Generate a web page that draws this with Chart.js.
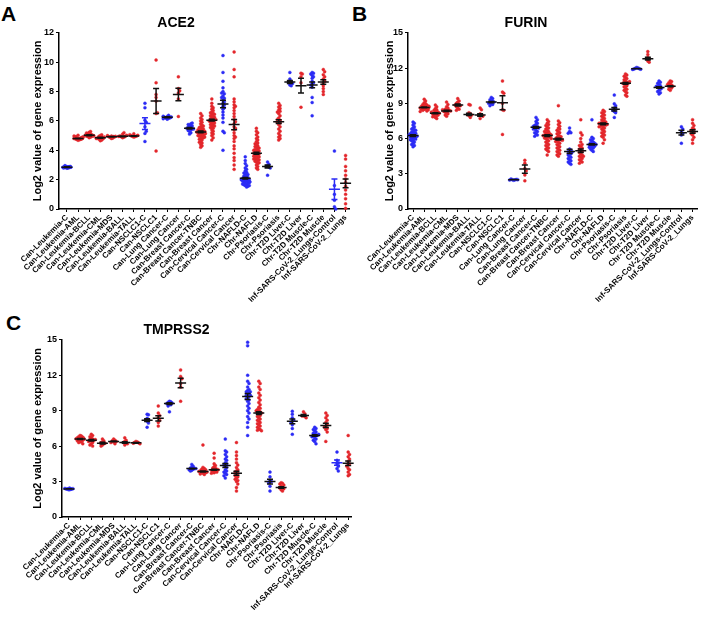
<!DOCTYPE html>
<html>
<head>
<meta charset="utf-8">
<script src="https://cdn.jsdelivr.net/npm/chart.js@4.4.1/dist/chart.umd.min.js"></script>
<style>
  body { margin: 0; background: #fff; width: 703px; height: 618px; position: relative; overflow: hidden; font-family: "Liberation Sans", Arial, sans-serif; }
  canvas { position: absolute; }
  .letter { position: absolute; font-weight: bold; font-size: 21px; color: #000; line-height: 1; }
</style>
</head>
<body>
<div class="letter" style="left:1px;top:3px">A</div>
<div class="letter" style="left:352px;top:3px">B</div>
<div class="letter" style="left:6px;top:312px">C</div>
<canvas id="chartA" width="354" height="310" style="left:0;top:0"></canvas>
<canvas id="chartB" width="350" height="310" style="left:352px;top:0"></canvas>
<canvas id="chartC" width="356" height="311" style="left:0;top:307px"></canvas>
<script>
const categories = [
  "Can-Leukemia-C", "Can-Leukemia-AML", "Can-Leukemia-BCLL", "Can-Leukemia-CML", "Can-Leukemia-MDS",
  "Can-Leukemia-BALL", "Can-Leukemia-TALL", "Can-NSCLC1-C", "Can-NSCLC1", "Can-Lung Cancer-C",
  "Can-Lung Cancer", "Can-Breast Cancer-C", "Can-Breast Cancer-TNBC", "Can-Breast Cancer", "Can-Cervical Cancer-C",
  "Can-Cervical Cancer", "Chr-NAFLD-C", "Chr-NAFLD", "Chr-Psoriasis-C", "Chr-Psoriasis",
  "Chr-T2D Liver-C", "Chr-T2D Liver", "Chr-T2D Muscle-C", "Chr-T2D Muscle", "Inf-SARS-CoV-2_Lungs-Control",
  "Inf-SARS-CoV-2_Lungs"
];

// ACE2 samples per group
const ace2Points = [
  [2.78,2.8,2.82,2.83,2.84,2.85,2.85,2.86,2.87,2.88,2.9,2.92,2.95,2.8,2.83,2.87,2.9,2.86],
  [4.68,4.72,4.74,4.76,4.78,4.79,4.8,4.8,4.81,4.82,4.83,4.85,4.86,4.88,4.9,4.93,4.97,5.02,4.75,4.78,4.84],
  [4.86,4.9,4.93,4.95,4.97,5.0,5.0,5.02,5.04,5.06,5.08,5.12,5.18,5.22,5.28,4.98,5.05],
  [4.65,4.7,4.75,4.78,4.82,4.85,4.88,4.9,4.95,5.0,5.05,4.8,4.86],
  [4.8,4.84,4.87,4.9,4.92,4.95,4.97,5.0,4.93],
  [4.86,4.9,4.92,4.95,4.98,5.02,5.1,5.2,4.94],
  [4.9,4.93,4.95,4.97,4.99,5.02,5.06,5.12],
  [7.2,6.9,6.05,5.9,5.6,5.15,5.3,4.6],
  [10.15,8.6,7.6,7.35,6.5,6.55,3.95,7.8],
  [6.12,6.18,6.2,6.22,6.25,6.27,6.3,6.32,6.38,6.15,6.24],
  [9.0,8.2,8.05,7.9,7.5,6.3],
  [5.1,5.2,5.3,5.35,5.4,5.45,5.5,5.5,5.55,5.6,5.65,5.7,5.75,5.8,5.85,5.45],
  [4.2,4.3,4.4,4.5,4.55,4.6,4.7,4.75,4.8,4.85,4.9,4.95,5.0,5.0,5.05,5.1,5.1,5.15,5.2,5.2,5.25,5.3,5.3,5.35,5.4,5.45,5.5,5.55,5.6,5.65,5.7,5.8,5.9,6.0,6.1,6.2,6.35,6.5,5.25,5.15,4.9,5.4],
  [4.7,4.85,5.0,5.1,5.2,5.3,5.4,5.5,5.55,5.6,5.7,5.75,5.8,5.85,5.9,5.95,6.0,6.0,6.05,6.1,6.1,6.15,6.2,6.25,6.3,6.35,6.4,6.5,6.55,6.6,6.7,6.8,6.9,7.0,7.2,7.5,5.65,6.45],
  [10.45,9.3,8.7,8.25,8.0,7.85,7.7,7.55,7.4,7.3,7.2,7.1,7.0,6.9,6.8,6.6,6.4,6.2,5.9,5.3,5.2,4.0,7.6,7.9],
  [10.7,9.5,9.0,7.5,7.3,7.1,7.0,6.9,6.7,6.5,6.3,6.1,5.95,5.8,5.6,5.4,5.2,5.0,4.9,4.8,4.6,4.3,4.1,3.8,3.5,3.3,3.0,2.7,5.5],
  [3.55,3.3,3.1,2.95,2.8,2.7,2.6,2.5,2.45,2.4,2.35,2.3,2.25,2.2,2.15,2.1,2.1,2.05,2.0,2.0,1.95,1.9,1.9,1.85,1.8,1.8,1.75,1.7,1.7,1.65,1.6,1.6,1.55,1.5,2.0,1.85],
  [5.5,5.3,5.2,5.05,4.9,4.8,4.7,4.6,4.5,4.45,4.4,4.3,4.25,4.2,4.1,4.05,4.0,3.95,3.9,3.85,3.8,3.75,3.7,3.65,3.6,3.55,3.5,3.45,3.4,3.35,3.3,3.25,3.2,3.15,3.1,3.0,2.9,2.8,2.7,3.8,3.6,3.4,4.0,4.15],
  [3.2,3.05,2.95,2.9,2.85,2.8,2.3],
  [7.2,7.05,6.95,6.85,6.75,6.65,6.5,6.35,6.2,6.05,5.95,5.85,5.75,5.6,5.45,5.3,5.15,5.0,4.9,4.8,4.7,6.1,5.9,6.6],
  [9.3,8.85,8.7,8.65,8.6,8.55,8.45,8.4],
  [9.25,9.2,9.0,8.6,6.93],
  [9.3,9.25,9.2,9.1,9.0,8.9,8.7,8.6,8.5,8.45,8.3,7.6,7.25,6.35],
  [9.5,9.35,9.15,9.0,8.85,8.7,8.6,8.4,8.2,8.0,7.8],
  [3.95,1.6,1.0,0.6,0.15,0.0],
  [3.65,3.4,2.9,2.6,2.3,2.05,1.8,1.55,1.3,1.0,0.7,0.35,0.05]
];
const ace2Means = [2.85,4.8,5.02,4.85,4.92,4.95,4.97,5.82,7.35,6.25,7.8,5.5,5.25,6.05,7.15,5.75,2.1,3.8,2.9,5.95,8.65,8.4,8.45,8.65,1.35,1.75];
const ace2Sems  = [0.02,0.02,0.03,0.04,0.02,0.03,0.02,0.4,0.85,0.03,0.42,0.05,0.06,0.06,0.25,0.35,0.05,0.07,0.1,0.13,0.1,0.5,0.2,0.15,0.7,0.3];

// FURIN samples per group
const furinPoints = [
  [7.4,7.3,7.15,7.0,6.9,6.8,6.75,6.7,6.6,6.55,6.5,6.45,6.4,6.35,6.3,6.25,6.2,6.2,6.15,6.1,6.05,6.0,5.95,5.9,5.85,5.8,5.7,5.6,5.5,5.4,5.3,6.3,6.1,6.4],
  [9.35,9.2,9.05,8.95,8.9,8.85,8.8,8.75,8.7,8.7,8.65,8.6,8.6,8.55,8.5,8.5,8.45,8.4,8.35,8.3,8.65,8.75,8.55],
  [8.85,8.7,8.55,8.45,8.4,8.3,8.25,8.2,8.15,8.1,8.05,8.0,7.95,7.9,7.85,7.8,7.7,8.15,8.25,8.05],
  [9.1,8.9,8.7,8.6,8.5,8.45,8.4,8.35,8.3,8.25,8.2,8.1,8.0,7.9,8.35,8.45],
  [9.4,9.2,9.1,9.0,8.9,8.85,8.8,8.7,8.6,8.5,8.4,8.85],
  [8.9,8.85,8.2,8.1,8.05,8.0,7.95,7.8],
  [8.6,8.45,8.1,8.0,7.95,7.9,7.7],
  [9.5,9.4,9.3,9.2,9.15,9.1,9.05,9.0,8.95,8.9,8.8],
  [10.9,9.95,9.85,9.0,8.45,8.4,6.35],
  [2.45,2.48,2.5,2.52,2.55,2.5,2.47],
  [4.15,3.9,3.45,3.25,2.9,2.4],
  [7.8,7.6,7.45,7.3,7.2,7.1,7.0,6.95,6.9,6.85,6.8,6.7,6.6,6.5,6.4,6.3,6.2,7.05],
  [7.6,7.45,7.3,7.2,7.1,7.0,6.9,6.8,6.7,6.6,6.5,6.45,6.4,6.35,6.3,6.25,6.2,6.15,6.1,6.05,6.0,5.9,5.8,5.7,5.6,5.5,5.4,5.3,5.2,5.1,5.0,4.9,4.6,6.3,6.25,6.2,6.6,6.0],
  [8.8,7.5,7.35,7.2,7.05,6.9,6.8,6.7,6.6,6.5,6.4,6.3,6.2,6.1,6.0,5.95,5.9,5.8,5.7,5.6,5.5,5.4,5.3,5.2,5.1,5.0,4.9,4.8,4.7,4.6,4.5,6.0,5.85,6.15,5.75],
  [6.9,6.6,6.5,6.45,5.1,5.0,4.9,4.8,4.7,4.6,4.5,4.4,4.3,4.2,4.1,4.0,3.9,3.8,4.85],
  [7.6,6.5,6.3,6.0,5.7,5.5,5.3,5.2,5.1,5.0,4.9,4.8,4.7,4.6,4.5,4.4,4.3,4.2,4.1,4.0,3.9,5.4,4.5],
  [7.6,6.1,6.0,5.9,5.8,5.7,5.65,5.6,5.55,5.5,5.45,5.4,5.35,5.3,5.25,5.2,5.1,5.0,4.9,5.5],
  [8.4,8.3,8.2,8.1,8.0,7.9,7.8,7.7,7.6,7.5,7.45,7.4,7.35,7.3,7.25,7.2,7.15,7.1,7.05,7.0,6.9,6.8,6.7,6.6,6.5,6.4,6.3,6.2,6.1,5.9,5.6,7.2,7.3,7.0],
  [9.7,8.95,8.8,8.6,8.5,8.4,8.3,8.2,7.8],
  [11.5,11.4,11.3,11.2,11.1,11.0,10.9,10.8,10.75,10.7,10.6,10.5,10.4,10.3,10.2,10.1,10.0,9.9,9.7,9.6,10.7,10.85],
  [12.05,12.0,11.98,11.95,11.92,11.9,11.88],
  [13.4,13.15,12.9,12.8,12.6,12.5],
  [10.9,10.8,10.7,10.6,10.5,10.4,10.35,10.3,10.2,10.1,10.0,9.9,9.8,10.45],
  [10.9,10.85,10.75,10.65,10.55,10.5,10.45,10.4,10.3,10.2,10.1,10.6],
  [7.0,6.8,6.55,6.45,6.3,5.6],
  [7.6,7.3,7.1,6.9,6.8,6.7,6.6,6.5,6.4,6.3,6.1,5.9,5.6]
];
const furinMeans = [6.25,8.65,8.15,8.35,8.85,8.05,8.0,9.1,9.05,2.5,3.4,6.95,6.25,5.95,4.9,4.95,5.5,7.25,8.5,10.7,11.95,12.8,10.35,10.45,6.5,6.6];
const furinSems  = [0.07,0.04,0.05,0.06,0.08,0.1,0.1,0.06,0.6,0.02,0.35,0.08,0.07,0.07,0.18,0.15,0.06,0.07,0.15,0.07,0.02,0.12,0.06,0.04,0.2,0.15];

// TMPRSS2 samples per group
const tmprss2Points = [
  [2.3,2.33,2.35,2.37,2.38,2.4,2.42,2.45,2.36,2.39],
  [6.9,6.85,6.8,6.75,6.7,6.65,6.6,6.6,6.55,6.5,6.45,6.4,6.35,6.3,6.2,6.62,6.68],
  [7.0,6.9,6.8,6.7,6.6,6.55,6.5,6.45,6.4,6.3,6.2,6.1,6.0,6.55],
  [6.6,6.45,6.35,6.3,6.25,6.2,6.1,6.0],
  [6.6,6.5,6.45,6.4,6.35,6.3,6.2],
  [6.7,6.5,6.4,6.3,6.25,6.2,6.1],
  [6.4,6.35,6.3,6.28,6.25,6.2],
  [8.7,8.65,8.35,8.25,8.2,8.1,7.95,7.6],
  [9.4,8.8,8.6,8.4,8.2,8.0,7.7],
  [9.8,9.75,9.7,9.65,9.6,9.55,9.5,9.4,8.9],
  [12.45,11.9,11.7,11.3,11.0,9.8],
  [4.45,4.3,4.2,4.15,4.1,4.05,4.0,3.95,3.9,4.1],
  [6.1,4.2,4.1,4.05,4.0,3.95,3.9,3.85,3.8,3.8,3.75,3.7,3.65,3.6,3.85,3.9],
  [5.4,5.0,4.5,4.35,4.25,4.15,4.1,4.05,4.0,3.95,3.9,3.85,3.8,3.75,3.7,4.0],
  [6.6,5.6,5.5,5.3,5.1,4.9,4.8,4.6,4.5,4.4,4.3,4.2,4.0,3.9,3.8,3.7,3.6,3.5,3.3],
  [6.3,5.5,5.2,4.9,4.6,4.4,4.2,4.0,3.9,3.8,3.7,3.6,3.5,3.4,3.3,3.2,3.1,3.0,2.8,2.5,2.2],
  [14.8,14.5,12.0,11.5,11.3,11.0,10.8,10.7,10.6,10.5,10.4,10.3,10.2,10.1,10.0,9.9,9.8,9.6,9.4,9.2,9.0,8.8,8.5,8.3,8.0,7.6,6.9,10.3,10.6],
  [11.5,11.3,11.0,10.8,10.5,10.3,10.1,9.9,9.7,9.5,9.3,9.2,9.1,9.0,8.9,8.8,8.7,8.6,8.5,8.4,8.3,8.2,8.1,8.0,7.9,7.8,7.7,7.6,7.5,7.4,7.35,7.3,8.8,9.0],
  [3.8,3.4,3.1,3.0,2.9,2.6,2.2],
  [2.9,2.85,2.8,2.7,2.6,2.5,2.45,2.4,2.3,2.2],
  [8.95,8.7,8.4,8.2,8.1,8.0,7.8,7.5,7.0],
  [8.9,8.75,8.6,8.55,8.5,8.4],
  [7.6,7.5,7.4,7.3,7.2,7.1,7.0,6.95,6.9,6.85,6.8,6.7,6.6,6.5,6.4,6.2,7.0],
  [8.8,8.6,8.4,8.2,8.0,7.8,7.7,7.6,7.5,7.4,7.2,6.4],
  [5.5,4.8,4.6,4.5,4.3,4.1,3.9],
  [6.9,5.5,5.3,5.1,4.9,4.7,4.5,4.4,4.3,4.1,4.0,3.8,3.6,3.5]
];
const tmprss2Means = [2.38,6.6,6.5,6.25,6.4,6.3,6.28,8.2,8.35,9.6,11.35,4.1,3.85,4.0,4.35,3.7,10.2,8.8,3.0,2.5,8.1,8.6,6.9,7.75,4.6,4.55];
const tmprss2Sems  = [0.01,0.04,0.07,0.07,0.04,0.06,0.03,0.12,0.22,0.08,0.4,0.03,0.05,0.05,0.17,0.17,0.25,0.12,0.2,0.06,0.2,0.07,0.06,0.18,0.22,0.2];

const BLUE = "#2b2bf5";
const RED = "#e3262b";
Chart.defaults.font.family = '"Liberation Sans", Arial, sans-serif';

const isControl = name => name.endsWith("-C") || name.endsWith("Control");

// spread points sideways so they do not overlap (simple beeswarm, width capped)
function swarm(vals, i, dy) {
  const dx = 0.12, slots = [0, 1, -1, 2, -2, 3, -3];
  const placed = [];
  return vals.map(v => {
    const near = placed.filter(p => Math.abs(p.v - v) < dy);
    let off = slots.map(s => s * dx).find(o => !near.some(p => Math.abs(p.o - o) < dx * 0.9));
    if (off === undefined) off = slots[near.length % slots.length] * dx + dx / 2;
    placed.push({ v, o: off });
    return { x: i + off, y: v };
  });
}

function errorBars(means, sems, blueBars) {
  return {
    id: "errorBars",
    afterDatasetsDraw(chart) {
      const { ctx, scales: { x, y } } = chart;
      ctx.save();
      ctx.lineWidth = 1.5;
      means.forEach((m, i) => {
        const cx = x.getPixelForValue(i);
        const ym = y.getPixelForValue(m);
        const yt = y.getPixelForValue(m + sems[i]);
        const yb = y.getPixelForValue(Math.max(0, m - sems[i]));
        ctx.strokeStyle = blueBars.includes(i) ? BLUE : "#111";
        ctx.beginPath();
        ctx.moveTo(cx - 5.5, ym); ctx.lineTo(cx + 5.5, ym);
        ctx.moveTo(cx, yt); ctx.lineTo(cx, yb);
        ctx.moveTo(cx - 3, yt); ctx.lineTo(cx + 3, yt);
        ctx.moveTo(cx - 3, yb); ctx.lineTo(cx + 3, yb);
        ctx.stroke();
      });
      ctx.restore();
    }
  };
}

function makeChart(id, title, points, means, sems, o) {
  const dy = o.yMax * 2.4 / 176;
  const ctrl = [], dis = [];
  points.forEach((vals, i) => {
    (isControl(categories[i]) ? ctrl : dis).push(...swarm(vals, i, dy));
  });
  const pointStyle = c => ({ backgroundColor: c, borderColor: c, pointRadius: 1.5, pointBorderWidth: 0.4, clip: false });
  return new Chart(document.getElementById(id), {
    type: "scatter",
    data: {
      datasets: [
        { data: ctrl, ...pointStyle(BLUE) },
        { data: dis, ...pointStyle(RED) }
      ]
    },
    options: {
      responsive: false,
      animation: false,
      layout: { padding: { left: 0, right: o.padRight, top: 0, bottom: 0 } },
      plugins: {
        legend: { display: false },
        tooltip: { enabled: false },
        title: {
          display: true, text: title, color: "#000",
          font: { size: 14, weight: "bold" },
          padding: { top: o.titleTop, bottom: 1 }
        }
      },
      scales: {
        x: {
          type: "linear", min: o.xMin, max: o.xMax,
          afterBuildTicks: s => { s.ticks = categories.map((c, i) => ({ value: i })); },
          afterFit: s => { s.height = 101; },
          ticks: {
            autoSkip: false, minRotation: 45, maxRotation: 45, padding: 1, color: "#000",
            font: { size: 8, weight: "bold" },
            callback: v => categories[v]
          },
          grid: { drawOnChartArea: false, drawTicks: true, tickLength: 3, color: "#000" },
          border: { color: "#000", width: 1.5 }
        },
        y: {
          min: 0, max: o.yMax,
          afterFit: s => { s.width = o.yWidth; },
          ticks: { stepSize: o.yStep, padding: 2, color: "#000", font: { size: 9, weight: "bold" } },
          title: {
            display: true, text: "Log2 value of gene expression", color: "#000",
            font: { size: 11, weight: "bold" }, padding: { top: 31, bottom: 0 }
          },
          grid: { drawOnChartArea: false, drawTicks: true, tickLength: 3, color: "#000" },
          border: { color: "#000", width: 1.5 }
        }
      }
    },
    plugins: [errorBars(means, sems, o.blueBars)]
  });
}

makeChart("chartA", "ACE2", ace2Points, ace2Means, ace2Sems,
  { yMax: 12, yStep: 2, xMin: -0.71, xMax: 25.36, yWidth: 59, padRight: 2, titleTop: 15, blueBars: [7, 24] });
makeChart("chartB", "FURIN", furinPoints, furinMeans, furinSems,
  { yMax: 15, yStep: 3, xMin: -0.45, xMax: 25.45, yWidth: 56, padRight: 2, titleTop: 15, blueBars: [] });
makeChart("chartC", "TMPRSS2", tmprss2Points, tmprss2Means, tmprss2Sems,
  { yMax: 15, yStep: 3, xMin: -0.62, xMax: 25.27, yWidth: 62, padRight: 3, titleTop: 15, blueBars: [24] });
</script>
</body>
</html>
